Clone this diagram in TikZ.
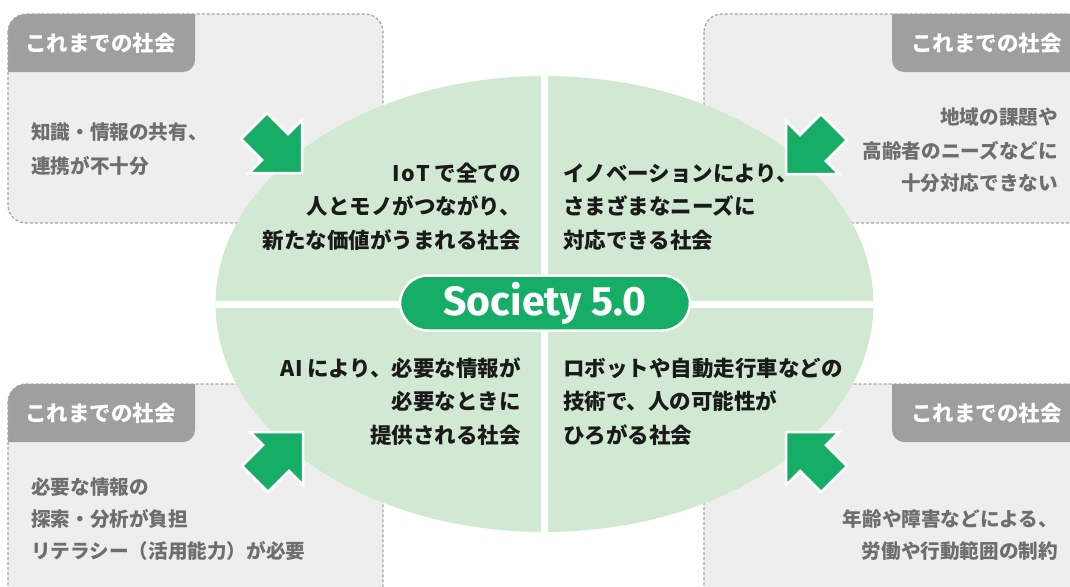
\documentclass[tikz,border=0pt]{standalone}
\usepackage{fontspec}
\newfontfamily\jp{Noto Sans CJK JP}
\newfontfamily\titlefont{Fira Sans}
\definecolor{boxfill}{HTML}{EEEEEE}
\definecolor{boxline}{HTML}{A6A6A6}
\definecolor{tabgray}{HTML}{9E9F9E}
\definecolor{ellfill}{HTML}{D1E8D3}
\definecolor{sgreen}{HTML}{16AE66}
\definecolor{graytext}{HTML}{6E6E6E}
\definecolor{darktext}{HTML}{1A1A1A}
\tikzset{
  oldbox/.style={draw=boxline, line width=1.2pt, dash pattern=on 3pt off 2pt, rounded corners=18pt},
  tabshape/.style={fill=tabgray, rounded corners=12pt},
  tabtext/.style={font=\jp\bfseries\fontsize{21.5}{26}\selectfont, text=white, inner sep=0pt},
  qtext/.style={font=\jp\bfseries\fontsize{21.5}{26}\selectfont, text=darktext, inner sep=0pt},
  gtext/.style={font=\jp\bfseries\fontsize{19.6}{23}\selectfont, text=graytext, inner sep=0pt},
  bigarrow/.style={fill=sgreen, draw=white, line width=2.5pt, line join=miter},
  pill/.style={fill=sgreen, draw=white, line width=2.5pt, rounded corners=28pt,
    minimum width=290pt, minimum height=55pt, inner sep=0pt,
    font=\titlefont\bfseries\fontsize{41}{46}\selectfont, text=white},
}
\begin{document}
\begin{tikzpicture}[x=1pt, y=-1pt]
\useasboundingbox (0,0) rectangle (1070,586);
\clip (0,0) rectangle (1070,586);
% --- old-society boxes ---
\foreach \bx/\by/\ex/\ey/\tx/\tex in {8/14/383/223/0/195, 704/14/1090/223/892/1090, 8/384/383/610/0/195, 704/384/1090/610/892/1090}{
  \fill[boxfill, rounded corners=18pt] (\bx,\by) rectangle (\ex,\ey);
  \begin{scope}
    \clip[rounded corners=18pt] (\bx,\by) rectangle (\ex,\ey);
    \ifnum\tx=0
      \fill[tabshape] (-30,\by-30) rectangle (\tex,\by+58);
    \else
      \fill[tabshape] (\tx,\by-30) rectangle (1120,\by+58);
    \fi
  \end{scope}
  \draw[oldbox] (\bx,\by) rectangle (\ex,\ey);
}
% --- central ellipse ---
\fill[ellfill] (544.5,304) ellipse [x radius=329, y radius=228];
\begin{scope}
  \clip (544.5,304) ellipse [x radius=329, y radius=228];
  \draw[white, line width=7pt] (544.5,60) -- (544.5,550);
  \draw[white, line width=7pt] (200,304) -- (900,304);
\end{scope}
\node[pill] (soc) at (545,303) {Society 5.0};
% --- arrows ---
\begin{scope}[shift={(302,173)}]
  \draw[bigarrow] (0,0) -- (0,-53) -- (-14,-39) -- (-35,-60) -- (-61,-34) -- (-40,-13) -- (-53,0) -- cycle;
\end{scope}
\begin{scope}[shift={(786,174)}, xscale=-1]
  \draw[bigarrow] (0,0) -- (0,-53) -- (-14,-39) -- (-35,-60) -- (-61,-34) -- (-40,-13) -- (-53,0) -- cycle;
\end{scope}
\begin{scope}[shift={(303,432)}, yscale=-1]
  \draw[bigarrow] (0,0) -- (0,-53) -- (-14,-39) -- (-35,-60) -- (-61,-34) -- (-40,-13) -- (-53,0) -- cycle;
\end{scope}
\begin{scope}[shift={(786,432)}, xscale=-1, yscale=-1]
  \draw[bigarrow] (0,0) -- (0,-53) -- (-14,-39) -- (-35,-60) -- (-61,-34) -- (-40,-13) -- (-53,0) -- cycle;
\end{scope}
% --- tab labels ---
\node[tabtext, anchor=base west] (tab1) at (25,52) {これまでの社会};
\node[tabtext, anchor=base east] (tab2) at (1062,52) {これまでの社会};
\node[tabtext, anchor=base west] (tab3) at (25,421) {これまでの社会};
\node[tabtext, anchor=base east] (tab4) at (1062,421) {これまでの社会};
% --- old society texts ---
\node[gtext, anchor=base west] (tl1) at (31,139) {知識・情報の共有、};
\node[gtext, anchor=base west] (tl2) at (31,173) {連携が不十分};
\node[gtext, anchor=base east] (tr1) at (1058,124) {地域の課題や};
\node[gtext, anchor=base east] (tr2) at (1058,158) {高齢者のニーズなどに};
\node[gtext, anchor=base east] (tr3) at (1058,190) {十分対応できない};
\node[gtext, anchor=base west] (bl1) at (31,494) {必要な情報の};
\node[gtext, anchor=base west] (bl2) at (31,526) {探索・分析が負担};
\node[gtext, anchor=base west] (bl3) at (31,558) {リテラシー（活用能力）が必要};
\node[gtext, anchor=base east] (br1) at (1058,526) {年齢や障害などによる、};
\node[gtext, anchor=base east] (br2) at (1058,558) {労働や行動範囲の制約};
% --- Society 5.0 texts ---
\node[qtext, anchor=base east] (q11) at (521,181) {I\kern1pt o\kern1pt T\kern5pt で全ての};
\node[qtext, anchor=base east] (q12) at (521,214.5) {人とモノがつながり、};
\node[qtext, anchor=base east] (q13) at (521,248) {新たな価値がうまれる社会};
\node[qtext, anchor=base west] (q21) at (563,181) {イノベーションにより、};
\node[qtext, anchor=base west] (q22) at (563,214.5) {さまざまなニーズに};
\node[qtext, anchor=base west] (q23) at (563,248) {対応できる社会};
\node[qtext, anchor=base east] (q31) at (521,376) {A\kern1pt I\kern4pt により、必要な情報が};
\node[qtext, anchor=base east] (q32) at (521,409.5) {必要なときに};
\node[qtext, anchor=base east] (q33) at (521,443) {提供される社会};
\node[qtext, anchor=base west] (q41) at (563,376) {ロボットや自動走行車などの};
\node[qtext, anchor=base west] (q42) at (563,409.5) {技術で、人の可能性が};
\node[qtext, anchor=base west] (q43) at (563,443) {ひろがる社会};
\end{tikzpicture}
\end{document}
